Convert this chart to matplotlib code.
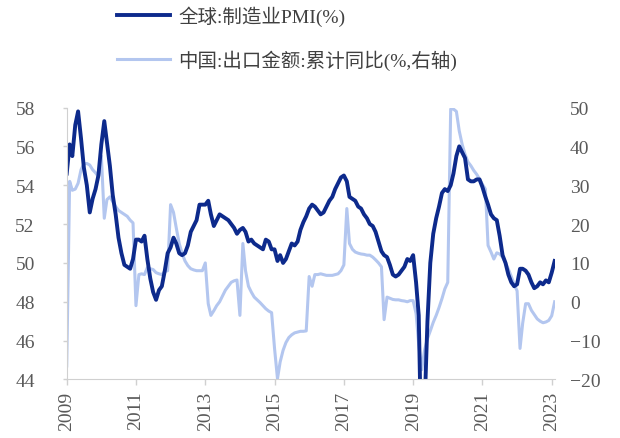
import numpy as np
import pandas as pd
import matplotlib
matplotlib.use("Agg")
import matplotlib.pyplot as plt

plt.rcParams['font.family'] = ['Liberation Serif', 'Noto Sans CJK SC']

# monthly series, Jan 2009 - Feb 2023
months = pd.date_range("2009-01-01", periods=170, freq="MS")

pmi = [
    54.6, 56.1, 55.5, 57.1, 57.8, 56.4, 54.9, 54.0, 52.6, 53.3, 53.8, 54.5,
    56.1, 57.3, 56.2, 55.0, 53.5, 52.5, 51.3, 50.5, 49.9, 49.8, 49.7, 50.2,
    51.2, 51.2, 51.1, 51.4, 50.2, 49.2, 48.5, 48.1, 48.6, 48.8, 49.6, 50.5,
    50.8, 51.3, 51.0, 50.5, 50.4, 50.5, 50.9, 51.6, 51.9, 52.2, 53.0, 53.0,
    53.0, 53.2, 52.5, 51.9, 52.2, 52.5, 52.4, 52.3, 52.2, 52.0, 51.8, 51.5,
    51.7, 51.8, 51.6, 51.1, 51.2, 51.0, 50.9, 50.8, 50.7, 51.2, 51.1, 50.7,
    50.7, 50.1, 50.4, 50.0, 50.2, 50.6, 51.0, 50.9, 51.1, 51.7, 52.1, 52.4,
    52.8, 53.0, 52.9, 52.7, 52.5, 52.6, 52.9, 53.2, 53.4, 53.8, 54.1, 54.4,
    54.5, 54.2, 53.4, 53.3, 53.2, 52.9, 52.8, 52.5, 52.3, 52.0, 51.9, 51.6,
    51.1, 50.6, 50.4, 50.3, 49.9, 49.4, 49.3, 49.4, 49.6, 49.8, 50.2, 50.1,
    50.4, 49.0, 47.3, 39.6, 42.4, 47.0, 50.0, 51.5, 52.3, 52.9, 53.6, 53.8,
    53.7, 54.0, 54.6, 55.5, 56.0, 55.7, 55.4, 54.3, 54.2, 54.2, 54.3, 54.3,
    53.9, 53.4, 53.0, 52.5, 52.3, 52.2, 51.4, 50.4, 50.0, 49.4, 49.0, 48.8,
    48.9, 49.7, 49.7, 49.6, 49.4, 49.0, 48.7, 48.8, 49.0, 48.9, 49.1, 49.0,
    49.5, 50.1,
]

exports_ytd = [
    -16.5, 31.0, 28.7, 29.0, 30.5, 34.0, 35.5, 35.6, 35.2, 34.0, 33.2, 32.2,
    37.5, 21.5, 26.3, 27.0, 25.8, 24.5, 23.5, 23.0, 22.5, 22.0, 21.0, 20.3,
    -1.0, 7.0, 7.2, 7.0, 8.8, 8.5, 8.3, 7.5, 7.2, 7.0, 7.8, 8.0,
    25.0, 23.0, 19.0, 15.0, 12.5, 10.5, 9.3, 8.5, 8.2, 8.0, 8.0, 8.0,
    10.0, -0.5, -3.5, -2.3, -1.0, 0.0, 1.5, 3.0, 4.0, 5.0, 5.4, 5.6,
    -3.5, 15.0, 8.0, 4.0, 2.5, 1.2, 0.5, -0.2, -1.0, -1.8, -2.4, -2.8,
    -12.0, -19.8, -15.5, -12.5, -10.5, -9.2, -8.5, -8.0, -7.8, -7.6, -7.6, -7.5,
    6.5, 4.0, 7.0, 7.0, 7.2, 7.0, 6.8, 6.8, 6.8, 7.0, 7.2, 8.0,
    9.5, 24.0, 15.0, 13.5, 12.8, 12.5, 12.3, 12.2, 12.0, 12.0, 11.5, 10.8,
    10.0, 9.0, -4.6, 1.2, 0.9, 0.6, 0.5, 0.5, 0.3, 0.2, 0.0, 0.3,
    0.3, -3.0, -11.0, -17.5, -12.5, -9.5, -7.5, -5.3, -3.5, -1.5, 0.8, 3.3,
    5.0, 49.6, 49.6, 49.0, 44.0, 40.5, 38.0, 36.0, 35.0, 33.8, 32.8, 31.6,
    30.2, 29.0, 14.5, 12.8, 11.0, 12.6, 12.3, 11.5, 10.0, 8.4, 6.5, 4.5,
    2.8, -12.0, -5.5, -0.5, -0.5, -2.2, -3.3, -4.4, -5.0, -5.4, -5.2, -4.8,
    -3.6, 0.0,
]

year_ticks = pd.to_datetime([f"{y}-01-01" for y in range(2009, 2024, 2)])
year_labels = [str(y) for y in range(2009, 2024, 2)]
left_ticks = np.arange(44, 59, 2)
right_ticks = np.arange(-20, 51, 10)

dark = "#0d2a8c"
light = "#b3c6ef"
grey = "#595959"
spine = "#d0d0d0"

fig = plt.figure(figsize=(6.2, 4.39), dpi=100)
ax = fig.add_axes([0.1076, 0.1333, 0.787, 0.6195])
ax2 = ax.twinx()

l2, = ax2.plot(months, exports_ytd, color=light, lw=2.2, solid_joinstyle='round')
l1, = ax.plot(months, pmi, color=dark, lw=2.8, solid_joinstyle='round')

# keep the PMI line above the right-axis series
ax.set_zorder(ax2.get_zorder() + 1)
ax.patch.set_visible(False)

ax.set_xlim(months[0], months[-1])
ax.set_ylim(44, 58)
ax2.set_ylim(-20, 50)
ax.set_yticks(left_ticks)
ax2.set_yticks(right_ticks)
ax.set_xticks(year_ticks)
ax.set_xticklabels(year_labels, rotation=90)

for a in (ax, ax2):
    for s in a.spines.values():
        s.set_visible(False)
ax.spines['bottom'].set_visible(True)
ax.spines['bottom'].set_color(spine)
ax.spines['left'].set_visible(True)
ax.spines['left'].set_color(spine)

ax.tick_params(axis='x', colors=spine, length=4, width=1, labelcolor=grey,
               labelsize=14, pad=4)
ax.tick_params(axis='y', colors=spine, length=3, width=1, labelcolor=grey,
               labelsize=14, pad=20)
ax2.tick_params(axis='y', length=0, labelcolor=grey, labelsize=14, pad=11)

fig.legend([l1, l2], ["全球:制造业PMI(%)", "中国:出口金额:累计同比(%,右轴)"],
           loc='upper left', bbox_to_anchor=(0.189, 0.985), frameon=False,
           borderpad=0, borderaxespad=0, handlelength=2.7, handletextpad=0.45,
           labelspacing=1.2, fontsize=14, labelcolor="#404040")

fig.savefig("out.png", dpi=100)
